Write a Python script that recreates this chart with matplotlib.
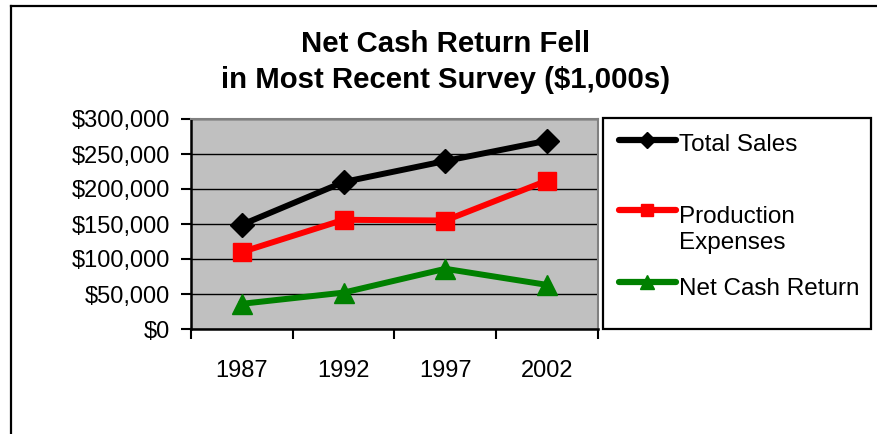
import matplotlib
matplotlib.use('Agg')
import matplotlib.pyplot as plt
from matplotlib.lines import Line2D
from matplotlib.patches import Rectangle
from matplotlib.ticker import FuncFormatter, FixedLocator

# Data
years = ['1987', '1992', '1997', '2002']
total_sales = [149000, 210000, 240000, 269000]
production_expenses = [110000, 156000, 155000, 212000]
net_cash_return = [36000, 52000, 86000, 63000]

series_names = ['Total Sales', 'Production\nExpenses', 'Net Cash Return']
series_colors = ['black', '#ff0000', '#008000']
series_markers = ['D', 's', '^']
series_msize = [12, 12.5, 14]

plt.rcParams['font.family'] = ['Liberation Sans', 'DejaVu Sans']

fig = plt.figure(figsize=(8.78, 4.34), dpi=100)
W, H = 878, 434

def fx(px):
    return px / W

def fy(py):
    return 1 - py / H

# outer chart frame (only left and top edges are visible)
fig.add_artist(Line2D([fx(11), fx(11)], [0, fy(6)], color='black', lw=1.6))
fig.add_artist(Line2D([fx(11), 1], [fy(6), fy(6)], color='black', lw=1.6))

fig.text(fx(446), fy(62), 'Net Cash Return Fell\nin Most Recent Survey ($1,000s)',
         ha='center', va='center', fontsize=21.2, fontweight='bold',
         linespacing=1.4)

ax = fig.add_axes([fx(191), fy(329), fx(598) - fx(191), fy(119) - fy(329)])
ax.set_facecolor('#c0c0c0')

x = list(range(len(years)))
all_series = [total_sales, production_expenses, net_cash_return]
for vals, color, mk, ms in zip(all_series, series_colors, series_markers, series_msize):
    ax.plot(x, vals, color=color, lw=4.3, marker=mk, markersize=ms,
            markerfacecolor=color, markeredgecolor=color, zorder=3, clip_on=False)

ax.set_xlim(-0.5, len(years) - 0.5)
ax.set_ylim(0, 300000)
ax.yaxis.set_major_locator(FixedLocator(range(0, 300001, 50000)))
ax.yaxis.set_major_formatter(FuncFormatter(lambda v, p: '${:,.0f}'.format(v)))
ax.grid(axis='y', color='black', lw=1)
ax.set_axisbelow(True)

ax.set_xticks([i - 0.5 for i in range(len(years) + 1)])
ax.set_xticklabels([])
ax.set_xticks(x, minor=True)
ax.set_xticklabels(years, minor=True)
ax.tick_params(axis='x', which='minor', length=0, pad=22, labelsize=17)
ax.tick_params(axis='x', which='major', length=7, width=1.5, direction='out')
ax.tick_params(axis='y', length=7, width=1.5, direction='out', labelsize=17, pad=8)

for side in ['left', 'bottom']:
    ax.spines[side].set_linewidth(1.8)
    ax.spines[side].set_color('black')
for side in ['top', 'right']:
    ax.spines[side].set_linewidth(1.5)
    ax.spines[side].set_color('#808080')

# legend box drawn like the spreadsheet legend
fig.add_artist(Rectangle((fx(603), fy(329)), fx(871) - fx(603), fy(118) - fy(329),
                         transform=fig.transFigure, facecolor='white',
                         edgecolor='black', lw=1.6))
legend_line_y = [140, 210, 282]
legend_text_y = [151, 249, 295]  # baseline of the last text line
for name, color, mk, ms, ly, ty in zip(series_names, series_colors, series_markers,
                                       series_msize, legend_line_y, legend_text_y):
    fig.add_artist(Line2D([fx(619), fx(676)], [fy(ly), fy(ly)], color=color, lw=4.5,
                          solid_capstyle='round'))
    fig.add_artist(Line2D([fx(647)], [fy(ly)], color=color, marker=mk,
                          markersize=ms * 0.7, markerfacecolor=color,
                          markeredgecolor=color))
    fig.text(fx(679), fy(ty), name, ha='left', va='baseline', fontsize=17.5,
             linespacing=1.23)

fig.savefig('out.png', dpi=100)
